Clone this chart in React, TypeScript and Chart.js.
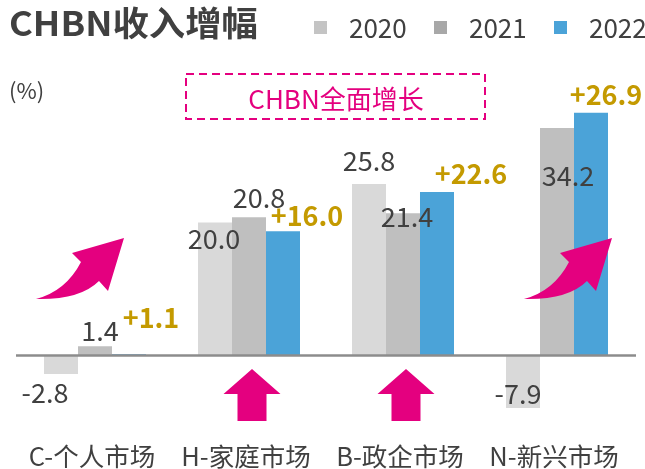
import { useEffect, useRef } from "react";
import { Chart, registerables } from "chart.js";

Chart.register(...registerables);

// ---- data ----
const categories = ["C-个人市场", "H-家庭市场", "B-政企市场", "N-新兴市场"];
const years = ["2020", "2021", "2022"];
const values2020 = [-2.8, 20.0, 25.8, -7.9];
const values2021 = [1.4, 20.8, 21.4, 34.2];
const values2022 = [0.2, 18.7, 24.6, 36.5];
const labels2020 = ["-2.8", "20.0", "25.8", "-7.9"];
const labels2021 = ["1.4", "20.8", "21.4", "34.2"];
const growth2022 = ["+1.1", "+16.0", "+22.6", "+26.9"];
const titleText = "CHBN收入增幅";
const unitText = "(%)";
const calloutText = "CHBN全面增长";

// ---- styles ----
const FONT = '"Noto Sans CJK SC", "Noto Sans", sans-serif';
const barColors = ["#D9D9D9", "#BFBFBF", "#4BA3D8"];
const legendColors = ["#C4C4C4", "#A8A8A8", "#4BA3D8"];
const TEXT = "#404040";
const GOLD = "#C49A00";
const MAGENTA = "#E4007F";

// label offsets (dx, dy) relative to the bar end
const off2020 = [[-16, 19], [-1, 16], [0, -23], [-5, -14]];
const off2021 = [[5, -15], [10, -19], [4, 4], [11, 48]];
const off2022 = [[22, -36], [24, -15], [34, -18], [15, -18]];

function curvedArrow(ctx: CanvasRenderingContext2D, sx: number) {
  ctx.save();
  ctx.translate(sx, 0);
  ctx.fillStyle = MAGENTA;
  ctx.beginPath();
  ctx.moveTo(36, 299);
  ctx.quadraticCurveTo(66, 291, 81, 262);
  ctx.lineTo(72, 253);
  ctx.lineTo(124, 238);
  ctx.lineTo(108, 291);
  ctx.lineTo(99, 281);
  ctx.quadraticCurveTo(80, 300, 36, 299);
  ctx.closePath();
  ctx.fill();
  ctx.restore();
}

function upArrow(ctx: CanvasRenderingContext2D, cx: number) {
  ctx.save();
  ctx.fillStyle = MAGENTA;
  ctx.beginPath();
  ctx.moveTo(cx, 369);
  ctx.lineTo(cx + 28.5, 394);
  ctx.lineTo(cx + 14.5, 394);
  ctx.lineTo(cx + 14.5, 421);
  ctx.lineTo(cx - 14.5, 421);
  ctx.lineTo(cx - 14.5, 394);
  ctx.lineTo(cx - 28.5, 394);
  ctx.closePath();
  ctx.fill();
  ctx.restore();
}

const decorPlugin = {
  id: "decor",
  afterDatasetsDraw(chart: any) {
    const ctx: CanvasRenderingContext2D = chart.ctx;
    const ys = chart.scales.y;
    const xs = chart.scales.x;
    const zero = ys.getPixelForValue(0);

    // zero line
    ctx.save();
    ctx.strokeStyle = "#8C8C8C";
    ctx.lineWidth = 2.5;
    ctx.beginPath();
    ctx.moveTo(16, zero);
    ctx.lineTo(636, zero);
    ctx.stroke();
    ctx.restore();

    // value labels
    const groups = [
      { labels: labels2020, off: off2020, color: TEXT, bold: false },
      { labels: labels2021, off: off2021, color: TEXT, bold: false },
      { labels: growth2022, off: off2022, color: GOLD, bold: true },
    ];
    ctx.save();
    ctx.textAlign = "center";
    ctx.textBaseline = "middle";
    groups.forEach((g, di) => {
      const meta = chart.getDatasetMeta(di);
      meta.data.forEach((bar: any, i: number) => {
        ctx.fillStyle = g.color;
        ctx.font = (g.bold ? "bold " : "") + "27px " + FONT;
        ctx.fillText(g.labels[i], bar.x + g.off[i][0], bar.y + g.off[i][1]);
      });
    });
    ctx.restore();

    // category labels
    ctx.save();
    ctx.fillStyle = TEXT;
    ctx.font = "25.5px " + FONT;
    ctx.textAlign = "center";
    ctx.textBaseline = "middle";
    categories.forEach((c, i) => {
      ctx.fillText(c, xs.getPixelForValue(i) - 3, 456);
    });
    ctx.restore();

    // title
    ctx.save();
    ctx.fillStyle = TEXT;
    ctx.font = "bold 34px " + FONT;
    ctx.textBaseline = "middle";
    ctx.textAlign = "left";
    ctx.translate(9, 23);
    ctx.scale(1.07, 1);
    ctx.fillText(titleText, 0, 0);
    ctx.restore();

    // legend
    ctx.save();
    ctx.textBaseline = "middle";
    ctx.textAlign = "left";
    const lx = [314, 434, 554];
    ctx.font = "26px " + FONT;
    years.forEach((y, i) => {
      ctx.fillStyle = legendColors[i];
      ctx.fillRect(lx[i], 21, 13, 13);
      ctx.fillStyle = TEXT;
      ctx.fillText(y, lx[i] + 35, 28);
    });
    // unit
    ctx.font = "22px " + FONT;
    ctx.fillText(unitText, 9, 91);
    ctx.restore();

    // callout box
    ctx.save();
    ctx.strokeStyle = MAGENTA;
    ctx.lineWidth = 2;
    ctx.setLineDash([8, 5]);
    ctx.strokeRect(186, 74, 299, 45);
    ctx.setLineDash([]);
    ctx.fillStyle = MAGENTA;
    ctx.font = "26px " + FONT;
    ctx.textAlign = "center";
    ctx.textBaseline = "middle";
    ctx.fillText(calloutText, 336, 99);
    ctx.restore();

    // arrows
    curvedArrow(ctx, 0);
    curvedArrow(ctx, 488);
    upArrow(ctx, xs.getPixelForValue(1) + 3);
    upArrow(ctx, xs.getPixelForValue(2) + 3);
  },
};

export default function App() {
  const ref = useRef<HTMLCanvasElement | null>(null);
  useEffect(() => {
    document.body.style.margin = "0";
    const canvas = ref.current;
    if (!canvas) return;
    const chart = new Chart(canvas, {
      type: "bar",
      data: {
        labels: categories,
        datasets: [
          { label: years[0], data: values2020, backgroundColor: barColors[0], borderWidth: 0 },
          { label: years[1], data: values2021, backgroundColor: barColors[1], borderWidth: 0 },
          { label: years[2], data: values2022, backgroundColor: barColors[2], borderWidth: 0 },
        ],
      },
      options: {
        responsive: false,
        animation: false,
        devicePixelRatio: 1,
        layout: { padding: { left: 18, right: 11, top: 89.5, bottom: 47 } },
        scales: {
          x: { display: false, grid: { display: false } },
          y: { display: false, min: -10, max: 40 },
        },
        datasets: {
          bar: { barPercentage: 1, categoryPercentage: 0.6623 },
        },
        plugins: { legend: { display: false }, tooltip: { enabled: false }, title: { display: false } },
      },
      plugins: [decorPlugin],
    });
    return () => chart.destroy();
  }, []);
  return (
    <canvas
      ref={ref}
      width={645}
      height={469}
      style={{ position: "absolute", left: 0, top: 0, display: "block", width: 645, height: 469 }}
    />
  );
}
